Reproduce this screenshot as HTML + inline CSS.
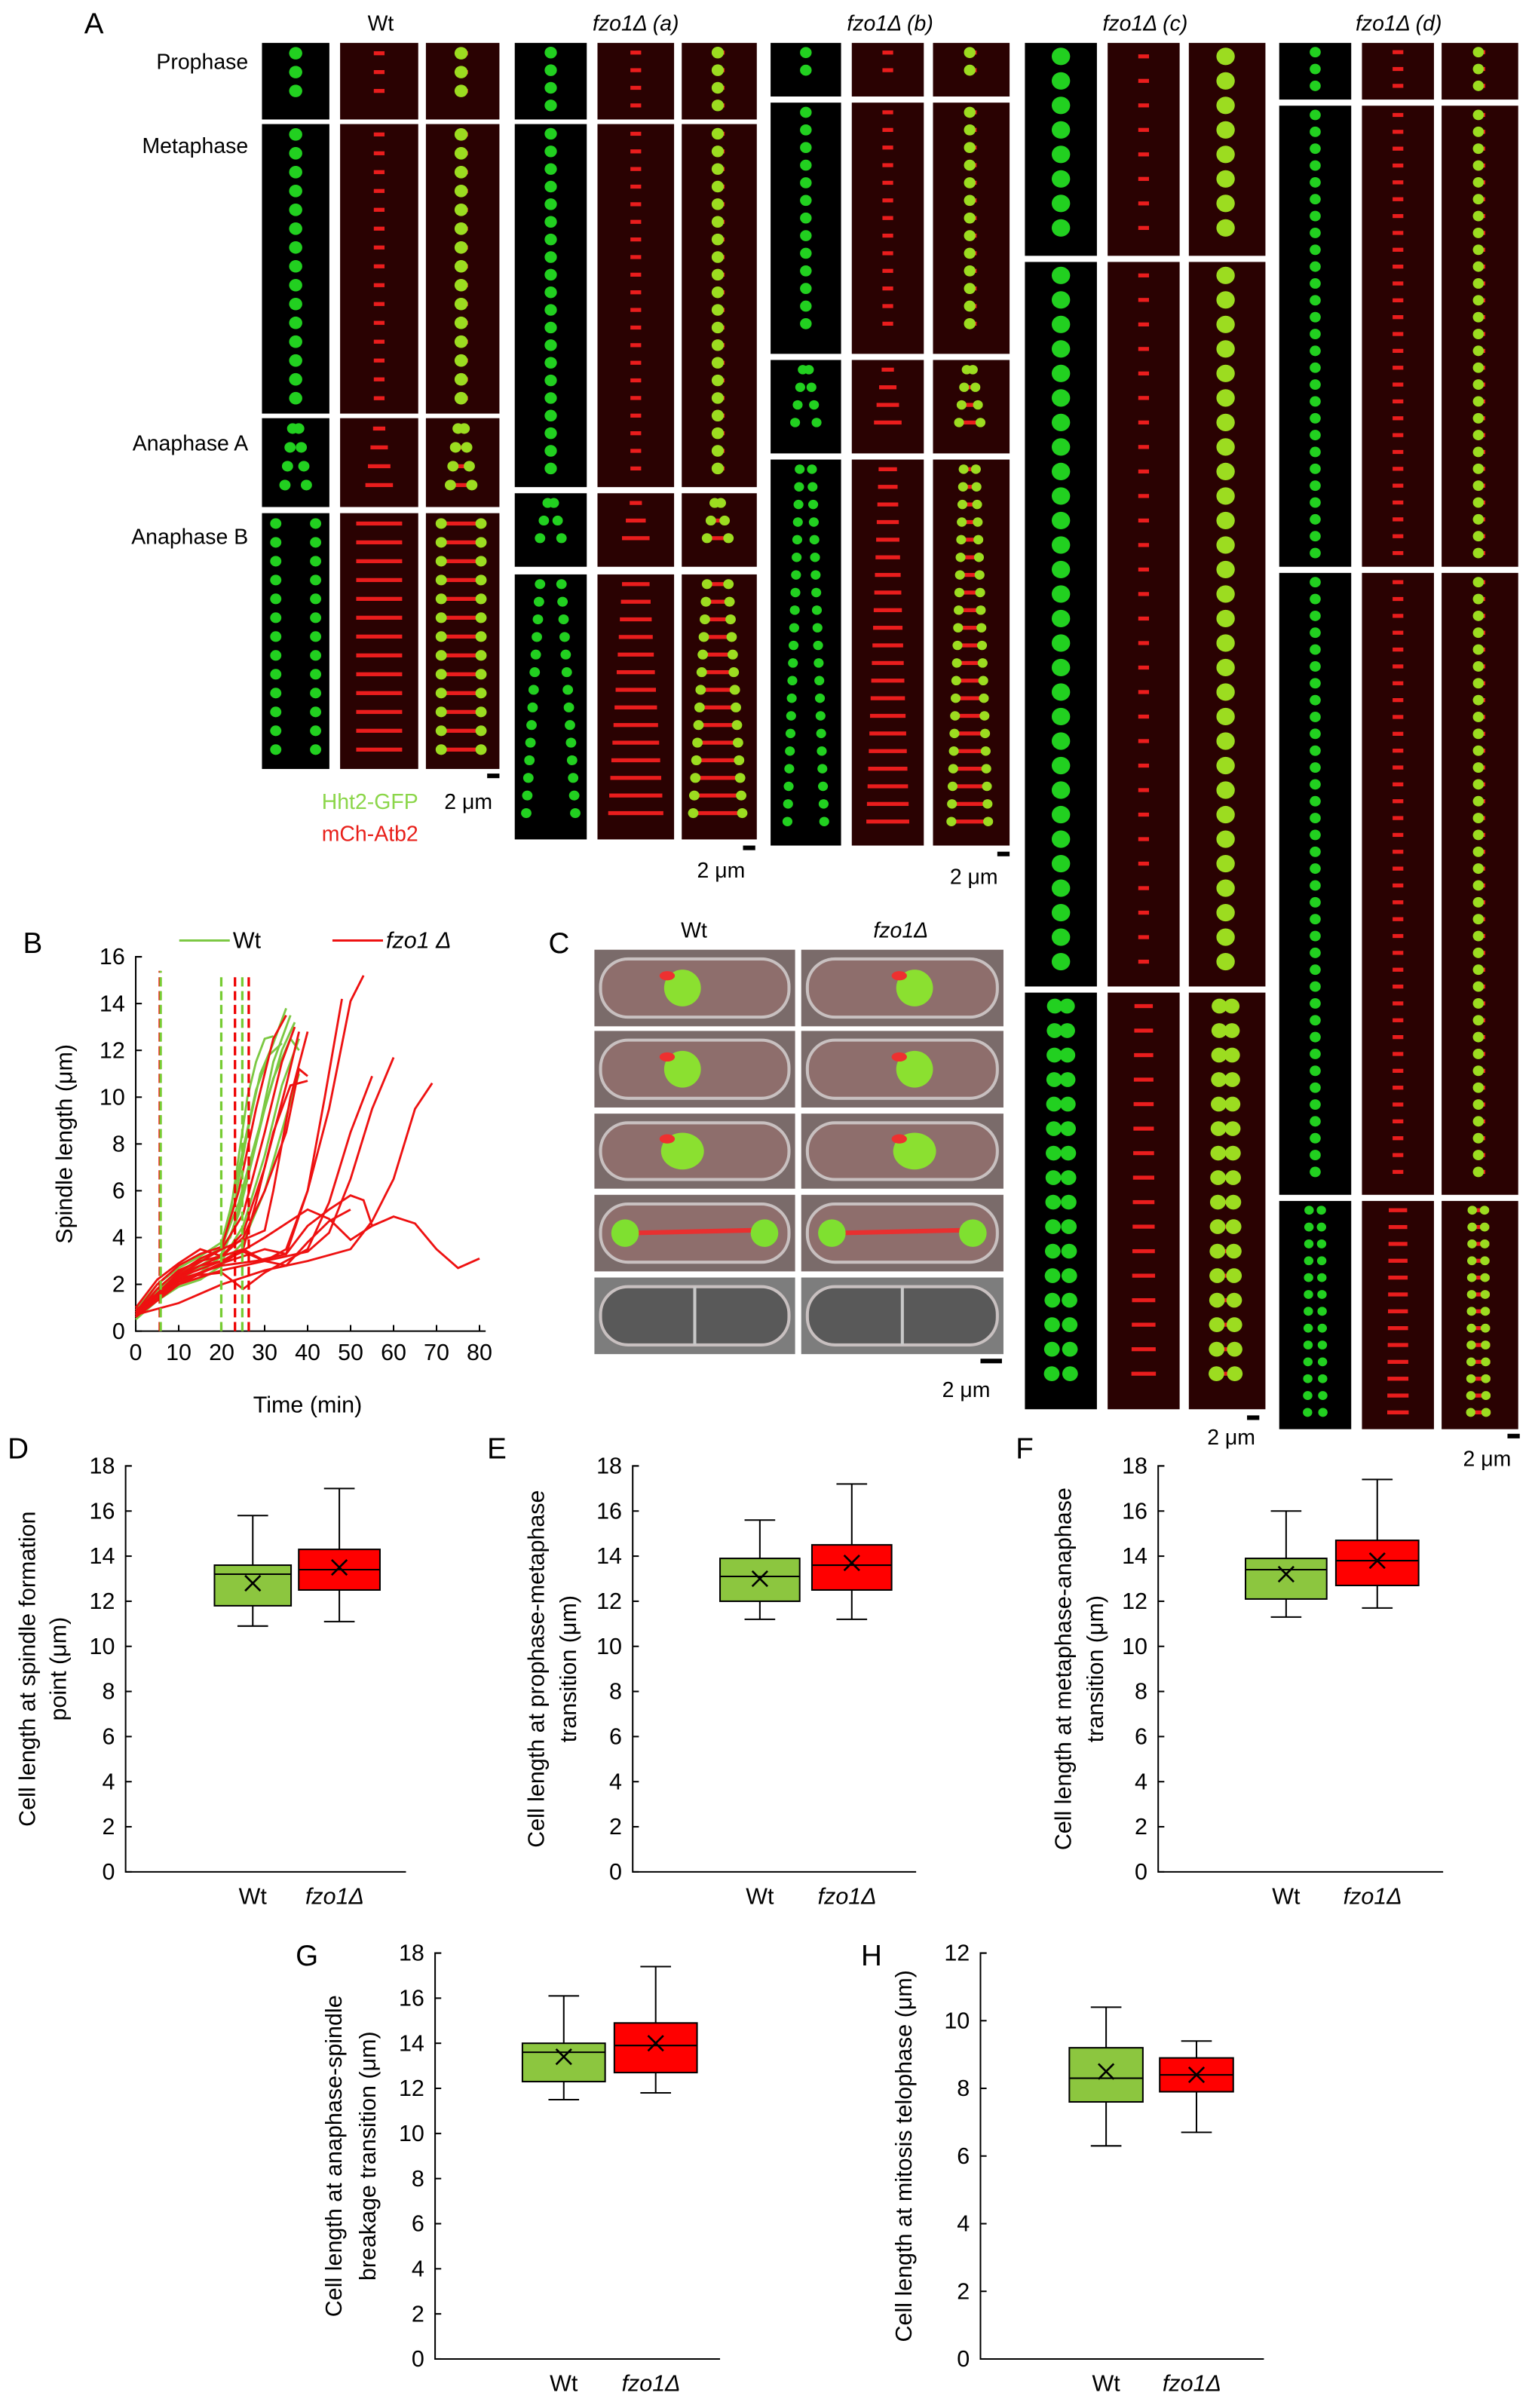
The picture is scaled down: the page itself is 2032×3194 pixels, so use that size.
<!DOCTYPE html>
<html><head><meta charset="utf-8">
<style>
html,body{margin:0;padding:0;background:#fff;}
svg{display:block;font-family:"Liberation Sans",sans-serif;}
</style></head>
<body>
<svg id="fig" width="2032" height="3194" viewBox="0 0 1000 1572" preserveAspectRatio="none" xmlns="http://www.w3.org/2000/svg">
<rect x="0" y="0" width="1000" height="1572" fill="#fff"/>
<g id="panelA"></g>
<g id="panelB"></g>
<g id="panelC"></g>
<g id="boxes"></g>
</svg>
<script>
// ---------- Panel B data ----------
const greenTimes = [
 [0,5,10,15,20,22,24,26,28,30,32],
 [0,5,10,15,20,23,26,29,32,35],
 [0,5,10,15,20,24,28,32,36],
 [0,5,10,15,20,25,30,34,38],
 [0,5,10,15,20,22,25,28,31,34],
 [0,5,10,15,20,25,30,35,38],
 [0,6,12,18,22,26,30,34,37],
 [0,5,10,15,20,24,28,32,36,38]
];
const greenValues = [
 [0.7,1.6,2.3,2.8,3.3,5,7.5,10,11.5,12.5,12.6],
 [0.8,1.8,2.5,3.0,3.5,5.5,8.5,11,12.3,13.8],
 [0.6,1.4,2.0,2.5,3.2,5,8,11.5,13.5],
 [0.7,1.5,2.2,2.7,3.0,4.5,7.5,10.5,12.5],
 [0.9,2.0,2.7,3.2,3.8,5.2,7.8,10.3,11.8,12.3],
 [0.5,1.3,1.9,2.2,2.8,3.8,6,9.2,11.0],
 [0.8,1.9,2.6,3.3,4.0,6.5,9.5,12,13.2],
 [0.7,1.7,2.4,3.0,3.6,5.5,8.2,10.8,12.5,12.0]
];
const redTimes = [
 [0,5,10,15,20,24,28,32,35],
 [0,5,10,15,20,25,30,34,37],
 [0,5,10,15,20,25,30,35,38],
 [0,5,10,15,20,25,28,32,36,40],
 [0,5,10,15,20,25,30,35,38,40],
 [0,10,20,25,30,35,40,44,48],
 [0,10,20,28,35,40,45,50,53],
 [0,10,20,25,30,40,45,50,55],
 [0,10,20,30,40,45,50,55,60],
 [0,10,20,30,40,50,55,60,65,69],
 [0,10,20,30,35,40,45,50,53,55],
 [0,10,20,30,40,45,50,55,60,65,70,75,80],
 [0,10,20,25,30,35,40,45,50],
 [0,10,20,30,32,36,40]
];
const redValues = [
 [0.8,2.0,2.8,3.3,3.6,6,9.5,12.5,13.5],
 [0.7,1.6,2.5,3.1,3.5,5,8.5,11.5,13],
 [1.0,2.2,2.9,3.5,3.2,4.2,7,10.5,12.8],
 [0.6,1.5,2.3,2.8,3.0,3.5,5.5,8.5,10.5,10.7],
 [0.7,1.8,2.6,3.0,3.2,4.0,6.0,8.5,11.2,10.9],
 [0.8,2.4,3.2,3.5,3.0,3.5,6,10,14.2],
 [0.7,2.2,2.8,3.0,3.3,6,9.5,14.1,15.2],
 [0.9,2.3,2.5,1.8,2.5,3.5,5.5,8.5,10.9],
 [0.6,2.0,2.6,3.0,3.4,4.2,6.5,9.5,11.7],
 [0.7,1.2,2.0,2.6,3.0,3.5,4.7,6.5,9.5,10.6],
 [0.8,2.1,2.9,3.5,3.3,4.5,5.2,5.8,5.6,4.5],
 [0.7,2.0,2.9,4.0,5.2,4.8,3.9,4.5,4.9,4.6,3.5,2.7,3.1],
 [0.9,2.3,3.0,3.4,3.0,2.8,3.8,4.7,5.2],
 [0.8,2.4,3.5,4.3,6,10,12.8]
];
const dashTimes = [5.6,5.8,19.9,23.1,24.8,26.3];
const dashColors = ['#e00','#7c3','#7c3','#e00','#7c3','#e00'];
const dashTops = [15.4,15.4,15.2,15.2,15.2,15.2];
const xTicksB = [0,10,20,30,40,50,60,70,80];
const yTicksB = [0,2,4,6,8,10,12,14,16];

// ---------- Box plot data ----------
const boxPanels = ['D','E','F','G','H'];
const boxWtStats = [ // [min,q1,median,q3,max,mean]
 [10.9,11.8,13.2,13.6,15.8,12.8],
 [11.2,12.0,13.1,13.9,15.6,13.0],
 [11.3,12.1,13.4,13.9,16.0,13.2],
 [11.5,12.3,13.6,14.0,16.1,13.4],
 [6.3,7.6,8.3,9.2,10.4,8.5]
];
const boxFzoStats = [
 [11.1,12.5,13.4,14.3,17.0,13.5],
 [11.2,12.5,13.6,14.5,17.2,13.7],
 [11.7,12.7,13.8,14.7,17.4,13.8],
 [11.8,12.7,13.9,14.9,17.4,14.0],
 [6.7,7.9,8.4,8.9,9.4,8.4]
];
const boxYMax = [18,18,18,18,12];
const boxYStep = [2,2,2,2,2];
const boxCategories = ['Wt','fzo1Δ'];

const NS='http://www.w3.org/2000/svg';
function mk(parent,tag,attrs,text){const e=document.createElementNS(NS,tag);for(const k in attrs)e.setAttribute(k,attrs[k]);if(text!==undefined)e.textContent=text;parent.appendChild(e);return e;}

// ---------- Panel A ----------
const A=document.getElementById('panelA');
let t;
t=mk(A,'text',{x:55,y:22,'font-size':19},'A');


const groups=[
 {name:'wt',label:'Wt',italic:false,xs:[171,222,278],ws:[44,51,48],rows:[[28,78,'p'],[81,270,'m'],[273,331,'aa'],[335,502,'ab']],r:4.3,step:12.3,sepAB:[26,26],bar:[318,505],barLbl:null},
 {name:'fzo1-a',label:'fzo1Δ (a)',italic:true,xs:[336,390,445],ws:[47,50,49],rows:[[28,78,'p'],[81,318,'m'],[322,370,'aa'],[375,548,'ab']],r:4,step:11.5,sepAB:[14,32],bar:[485,552],barLbl:[455,573]},
 {name:'fzo1-b',label:'fzo1Δ (b)',italic:true,xs:[503,556,609],ws:[46,47,50],rows:[[28,63,'p'],[67,231,'m'],[235,296,'aa'],[300,552,'ab']],r:3.8,step:11.5,sepAB:[8,24],bar:[651,556],barLbl:[620,577]},
 {name:'fzo1-c',label:'fzo1Δ (c)',italic:true,xs:[669,723,776],ws:[47,47,50],rows:[[28,167,'p'],[171,644,'m'],[648,920,'ab']],r:6,step:16,sepAB:[8,12],bar:[814,924],barLbl:[788,943]},
 {name:'fzo1-d',label:'fzo1Δ (d)',italic:true,xs:[835,889,941],ws:[47,47,50],rows:[[28,65,'p'],[69,370,'m'],[374,780,'m'],[784,933,'ab']],r:3.6,step:11,sepAB:[8,10],bar:[984,936],barLbl:[955,957]}
];
groups.forEach(g=>{
  const cx=(g.xs[0]+g.xs[2]+g.ws[2])/2;
  const lt=mk(A,'text',{x:cx,y:20,'font-size':14,'text-anchor':'middle','font-style':g.italic?'italic':'normal'},g.label);
  
  
  g.rows.forEach((row,ri)=>{
    for(let c=0;c<3;c++){
      const x=g.xs[c],w=g.ws[c],y0=row[0],y1=row[1];
      const cell=mk(A,'g',{});
      
      
      mk(cell,'rect',{x:x,y:y0,width:w,height:y1-y0,fill:c===0?'#000':'#2a0202'});
      const n=Math.floor((y1-y0-4)/g.step);
      for(let i=0;i<n;i++){
        const yy=y0+g.step*0.55+i*g.step;
        const f=n>1?i/(n-1):0;
        let seps;
        if(row[2]==='p'||row[2]==='m') seps=[0];
        else if(row[2]==='aa'){const s=4+f*10;seps=[-s/2,s/2];}
        else {const s=g.sepAB[0]+(g.sepAB[1]-g.sepAB[0])*f;seps=[-s/2,s/2];}
        const mx=x+w/2;
        if(c>0){
          const len=row[2]==='ab'?Math.abs(seps[1]-seps[0])+4:(row[2]==='aa'?Math.abs(seps[1]-seps[0])+4:7);
          mk(cell,'rect',{x:mx-len/2,y:yy-1.3,width:len,height:2.6,fill:'#ff2020',opacity:0.9});
        }
        if(c!==1){
          const rr=seps.length>1?g.r*0.85:g.r;
          seps.forEach(s=>mk(cell,'ellipse',{cx:mx+s-(c===2?1:0),cy:yy,rx:rr,ry:rr*0.95,fill:c===2?'#9cdc20':'#22d020'}));
        }
      }
    }
  });
  mk(A,'rect',{x:g.bar[0],y:g.bar[1],width:8,height:3,fill:'#000'});
  if(g.barLbl){const bl=mk(A,'text',{x:g.barLbl[0],y:g.barLbl[1],'font-size':14},'2 μm');
  
  }
});
[['Prophase',45],['Metaphase',100],['Anaphase A',294],['Anaphase B',355]].forEach(p=>{
  const e=mk(A,'text',{x:162,y:p[1],'font-size':14,'text-anchor':'end'},p[0]);
  
  
});
t=mk(A,'text',{x:210,y:528,'font-size':14,fill:'#8cd64a'},'Hht2-GFP');


t=mk(A,'text',{x:290,y:528,'font-size':14},'2 μm');


t=mk(A,'text',{x:210,y:549,'font-size':14,fill:'#e8201a'},'mCh-Atb2');



// ---------- Panel B ----------
const B=document.getElementById('panelB');
const bx0=88.6,bx1=313,by0=869,by1=624.6;
const sx=v=>bx0+(bx1-bx0)*v/80, sy=v=>by0+(by1-by0)*v/16;
t=mk(B,'text',{x:15,y:622,'font-size':19},'B');


mk(B,'path',{d:`M${bx0+4},${by1} H${bx0} V${by0} H${bx1+4}`,fill:'none',stroke:'#000','stroke-width':1});
yTicksB.forEach(v=>{mk(B,'line',{x1:bx0,x2:bx0+4,y1:sy(v),y2:sy(v),stroke:'#000'});
  const e=mk(B,'text',{x:bx0-7,y:sy(v)+5,'font-size':15,'text-anchor':'end'},v);
  
  });
xTicksB.forEach(v=>{mk(B,'line',{x1:sx(v),x2:sx(v),y1:by0,y2:by0-4,stroke:'#000'});
  const e=mk(B,'text',{x:sx(v),y:by0+19,'font-size':15,'text-anchor':'middle'},v);
  
  });
t=mk(B,'text',{x:(bx0+bx1)/2,y:922,'font-size':15,'text-anchor':'middle'},'Time (min)');


t=mk(B,'text',{x:0,y:0,'font-size':15,'text-anchor':'middle',transform:`translate(47,${(by0+by1)/2}) rotate(-90)`},'Spindle length (μm)');


function drawSeries(times,vals,color,name){
  times.forEach((ts,i)=>{
    const d=ts.map((tt,j)=>(j?'L':'M')+sx(tt).toFixed(1)+','+sy(vals[i][j]).toFixed(1)).join(' ');
    const p=mk(B,'path',{d:d,fill:'none',stroke:color,'stroke-width':1.4});
    
    
  });
}
drawSeries(greenTimes,greenValues,'#7cc843','wt');
drawSeries(redTimes,redValues,'#ee1111','fzo1');
dashTimes.forEach((tt,i)=>{
  const l=mk(B,'line',{x1:sx(tt),x2:sx(tt),y1:sy(0),y2:sy(dashTops[i]),stroke:dashColors[i],'stroke-width':1.6,'stroke-dasharray':'6,3'});
  
  
});
mk(B,'line',{x1:117,x2:150,y1:614,y2:614,stroke:'#7cc843','stroke-width':1.5});
t=mk(B,'text',{x:152,y:619,'font-size':15},'Wt');


mk(B,'line',{x1:217,x2:250,y1:614,y2:614,stroke:'#ee1111','stroke-width':1.5});
t=mk(B,'text',{x:252,y:619,'font-size':15,'font-style':'italic'},'fzo1 Δ');



// ---------- Panel C ----------
const C=document.getElementById('panelC');
t=mk(C,'text',{x:358,y:622,'font-size':19},'C');


t=mk(C,'text',{x:453,y:612,'font-size':14,'text-anchor':'middle'},'Wt');


t=mk(C,'text',{x:588,y:612,'font-size':14,'text-anchor':'middle','font-style':'italic'},'fzo1Δ');


const cRows=[[620,670],[673,723],[727,776],[780,830],[834,884]];
[[388,131],[523,132]].forEach((col,ci)=>{
  cRows.forEach((r,ri)=>{
    const g=mk(C,'g',{});
    
    
    const last=ri===4;
    mk(g,'rect',{x:col[0],y:r[0],width:col[1],height:r[1]-r[0],fill:last?'#7d7d7d':'#7a6b6a'});
    mk(g,'rect',{x:col[0]+4,y:r[0]+6,width:col[1]-8,height:r[1]-r[0]-12,rx:18,fill:last?'#595959':'#8e6e6c',stroke:'#c8c0c0','stroke-width':2});
    if(last){mk(g,'line',{x1:col[0]+col[1]/2,x2:col[0]+col[1]/2,y1:r[0]+6,y2:r[1]-6,stroke:'#c8c8c8','stroke-width':2});}
    else{
      const cx=col[0]+col[1]/2+(ci?8:-8), cy=(r[0]+r[1])/2;
      if(ri===3){
        mk(g,'line',{x1:col[0]+22,x2:col[0]+col[1]-22,y1:cy,y2:cy-2,stroke:'#e83030','stroke-width':3});
        mk(g,'circle',{cx:col[0]+20,cy:cy,r:9,fill:'#7fe030'});
        mk(g,'circle',{cx:col[0]+col[1]-20,cy:cy,r:9,fill:'#7fe030'});
      } else {
        mk(g,'ellipse',{cx:cx,cy:cy,rx:ri===2?14:12,ry:12,fill:'#8be030'});
        mk(g,'ellipse',{cx:cx-10,cy:cy-8,rx:5,ry:3,fill:'#ee3030'});
      }
    }
  });
});
mk(C,'rect',{x:640,y:887,width:14,height:3,fill:'#000'});
t=mk(C,'text',{x:615,y:912,'font-size':14},'2 μm');



// ---------- Box plots ----------
const BX=document.getElementById('boxes');
const layouts=[
 {ax:82,top:957,bot:1222,right:265,wt:[140,190],fz:[195,248],letter:[5,952],lab:[18,38],lines:['Cell length at spindle formation','point (μm)']},
 {ax:413,top:957,bot:1222,right:598,wt:[470,522],fz:[530,582],letter:[318,952],lab:[350,371],lines:['Cell length at prophase-metaphase','transition (μm)']},
 {ax:756,top:957,bot:1222,right:942,wt:[813,866],fz:[872,926],letter:[663,952],lab:[694,715],lines:['Cell length at metaphase-anaphase','transition (μm)']},
 {ax:284,top:1275,bot:1540,right:470,wt:[341,395],fz:[401,455],letter:[193,1283],lab:[218,240],lines:['Cell length at anaphase-spindle','breakage transition (μm)']},
 {ax:640,top:1275,bot:1540,right:825,wt:[698,746],fz:[757,805],letter:[562,1283],lab:[590],lines:['Cell length at mitosis telophase (μm)']}
];
boxPanels.forEach((pn,i)=>{
  const L=layouts[i];
  const g=mk(BX,'g',{});
  
  
  const ys=v=>L.bot-(L.bot-L.top)*v/boxYMax[i];
  const e0=mk(g,'text',{x:L.letter[0],y:L.letter[1],'font-size':19},pn);
  
  
  mk(g,'path',{d:`M${L.ax+4},${L.top} H${L.ax} V${L.bot} H${L.right}`,fill:'none',stroke:'#000','stroke-width':1});
  for(let v=0;v<=boxYMax[i];v+=boxYStep[i]){
    mk(g,'line',{x1:L.ax,x2:L.ax+4,y1:ys(v),y2:ys(v),stroke:'#000'});
    const e=mk(g,'text',{x:L.ax-7,y:ys(v)+5,'font-size':15,'text-anchor':'end'},v);
    
    
  }
  const cy=(L.top+L.bot)/2;
  L.lines.forEach((ln,k)=>{
    const e=mk(g,'text',{x:0,y:0,'font-size':15,'text-anchor':'middle',transform:`translate(${L.lab[k]+5},${cy}) rotate(-90)`},ln);
    
    
  });
  [[boxWtStats[i],L.wt,'#8cc63f'],[boxFzoStats[i],L.fz,'#ff0000']].forEach((b,k)=>{
    const s=b[0],x0=b[1][0],x1=b[1][1],mx=(x0+x1)/2;
    const bg=mk(g,'g',{});
    
    
    mk(bg,'line',{x1:mx,x2:mx,y1:ys(s[0]),y2:ys(s[4]),stroke:'#000'});
    mk(bg,'line',{x1:mx-10,x2:mx+10,y1:ys(s[0]),y2:ys(s[0]),stroke:'#000'});
    mk(bg,'line',{x1:mx-10,x2:mx+10,y1:ys(s[4]),y2:ys(s[4]),stroke:'#000'});
    mk(bg,'rect',{x:x0,y:ys(s[3]),width:x1-x0,height:ys(s[1])-ys(s[3]),fill:b[2],stroke:'#000'});
    mk(bg,'line',{x1:x0,x2:x1,y1:ys(s[2]),y2:ys(s[2]),stroke:'#000'});
    const m=ys(s[5]);
    mk(bg,'path',{d:`M${mx-5},${m-5} L${mx+5},${m+5} M${mx-5},${m+5} L${mx+5},${m-5}`,stroke:'#000','stroke-width':1.3});
    const e=mk(g,'text',{x:mx+(k?-3:0),y:L.bot+21,'font-size':15,'text-anchor':'middle','font-style':k?'italic':'normal'},boxCategories[k]);
    
    
  });
});
</script>
</body></html>
